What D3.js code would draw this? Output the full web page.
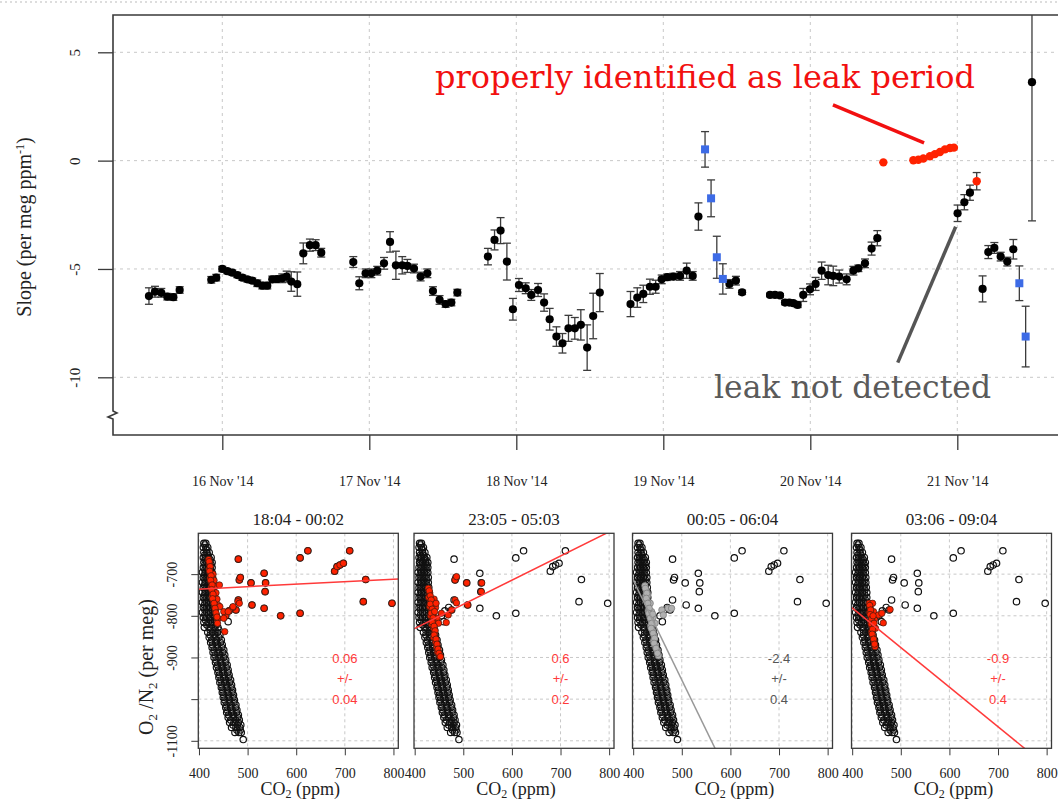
<!DOCTYPE html>
<html>
<head>
<meta charset="utf-8">
<script src="https://cdn.jsdelivr.net/npm/d3@7"></script>
<style>
  body { margin: 0; background: #fff; }
  svg { display: block; }
</style>
</head>
<body>
<div id="chart"></div>
<script>
// ---- main plot data: [day of Nov 2014 (fractional), slope, error] ----
var blackPoints = [
  [15.501,-6.25,0.38],[15.542,-6.05,0.25],[15.585,-6.10,0.2],[15.626,-6.28,0.15],[15.667,-6.30,0.15],[15.710,-5.97,0.15],
  [15.925,-5.50,0.15],[15.959,-5.40,0.15],[16.000,-5.00,0.12],[16.034,-5.10,0.12],[16.068,-5.17,0.12],[16.102,-5.28,0.12],
  [16.136,-5.40,0.12],[16.170,-5.48,0.12],[16.204,-5.54,0.12],[16.238,-5.66,0.15],[16.272,-5.77,0.15],[16.306,-5.77,0.15],
  [16.340,-5.48,0.15],[16.374,-5.47,0.15],[16.408,-5.43,0.2],[16.438,-5.35,0.25],[16.469,-5.58,0.45],[16.510,-5.70,0.56],
  [16.551,-4.28,0.48],[16.596,-3.90,0.28],[16.635,-3.90,0.25],[16.673,-4.25,0.2],
  [16.891,-4.68,0.25],[16.932,-5.66,0.3],[16.975,-5.20,0.2],[17.014,-5.20,0.2],[17.054,-5.08,0.2],[17.100,-4.74,0.27],
  [17.141,-3.75,0.47],[17.181,-4.83,0.65],[17.224,-4.83,0.4],[17.259,-4.86,0.3],[17.304,-4.98,0.2],[17.349,-5.35,0.2],
  [17.395,-5.20,0.2],[17.433,-6.02,0.2],[17.478,-6.43,0.2],[17.519,-6.62,0.15],[17.558,-6.55,0.15],[17.599,-6.09,0.15],
  [17.807,-4.43,0.38],[17.852,-3.66,0.46],[17.893,-3.23,0.6],[17.936,-4.66,0.85],[17.977,-6.86,0.5],[18.018,-5.74,0.3],
  [18.064,-5.89,0.25],[18.102,-6.20,0.25],[18.148,-5.97,0.3],[18.189,-6.55,0.4],[18.227,-7.32,0.5],[18.273,-8.12,0.45],
  [18.314,-8.43,0.45],[18.355,-7.74,0.6],[18.398,-7.74,0.5],[18.439,-7.58,0.7],[18.482,-8.63,1.05],[18.523,-7.17,1.05],
  [18.568,-6.09,0.88],
  [18.777,-6.62,0.58],[18.823,-6.32,0.45],[18.864,-6.15,0.4],[18.909,-5.82,0.35],[18.948,-5.82,0.3],[18.989,-5.48,0.2],
  [19.027,-5.38,0.15],[19.068,-5.35,0.15],[19.114,-5.32,0.2],[19.159,-5.08,0.35],[19.200,-5.32,0.2],
  [19.239,-2.58,0.63],
  [19.450,-5.69,0.2],[19.494,-5.54,0.2],[19.536,-6.08,0.1],
  [19.726,-6.20,0.08],[19.760,-6.20,0.08],[19.794,-6.22,0.08],[19.828,-6.55,0.1],[19.857,-6.55,0.1],[19.884,-6.58,0.1],
  [19.914,-6.66,0.12],[19.952,-6.20,0.3],[19.998,-5.94,0.25],[20.036,-5.69,0.3],[20.077,-5.08,0.4],[20.122,-5.28,0.45],
  [20.156,-5.32,0.45],[20.197,-5.35,0.3],[20.247,-5.48,0.25],[20.293,-5.08,0.2],[20.327,-4.97,0.15],[20.372,-4.74,0.2],
  [20.417,-4.06,0.3],[20.456,-3.58,0.35],
  [21.002,-2.43,0.38],[21.048,-1.92,0.35],[21.086,-1.48,0.35],
  [21.172,-5.92,0.6],[21.211,-4.22,0.3],[21.252,-4.03,0.25],[21.295,-4.43,0.2],[21.340,-4.66,0.2],[21.381,-4.09,0.45],
  [21.508,3.62,6.4]
];
var bluePoints = [
  [19.284,0.52,0.82],[19.325,-1.74,0.85],[19.364,-4.46,0.97],[19.405,-5.46,0.7],[21.422,-5.66,0.8],[21.465,-8.12,1.4]
];
var redPoints = [
  [20.497,-0.08,0],[20.701,0.02,0],[20.735,0.04,0],[20.769,0.10,0],[20.814,0.20,0],[20.848,0.30,0],
  [20.882,0.40,0],[20.916,0.52,0],[20.950,0.58,0],[20.977,0.60,0],[21.132,-0.95,0.4]
];
var dayTicks = [16, 17, 18, 19, 20, 21];
var slopeTicks = [-10, -5, 0, 5];

// ---- scatter panels: [CO2 ppm, O2/N2 per meg] ----
var allBand = [
  [410,-626],[414,-626],[409,-636],[414,-636],[418,-636],[410,-648],[416,-648],[421,-648],
  [409,-660],[414,-660],[420,-660],[425,-660],[410,-672],[416,-672],[422,-672],[427,-672],
  [409,-684],[415,-684],[421,-684],[427,-684],[407,-696],[414,-696],[420,-696],[427,-696],
  [409,-708],[415,-708],[421,-708],[428,-708],[407,-720],[414,-720],[421,-720],[428,-720],
  [409,-732],[415,-732],[422,-732],[429,-732],[407,-744],[414,-744],[421,-744],[430,-744],
  [409,-756],[415,-756],[422,-756],[430,-756],[407,-768],[415,-768],[423,-768],[431,-768],
  [409,-780],[416,-780],[423,-780],[431,-780],[407,-792],[416,-792],[424,-792],[433,-792],
  [409,-804],[416,-804],[424,-804],[433,-804],[410,-816],[419,-816],[428,-816],[436,-816],
  [411,-828],[421,-828],[431,-828],[439,-828],
  [412,-630],[416,-642],[412,-654],[418,-654],[412,-666],[418,-666],[423,-666],[412,-678],[419,-678],
  [425,-678],[412,-690],[418,-690],[424,-690],[411,-702],[417,-702],[424,-702],[412,-714],[418,-714],
  [425,-714],[411,-726],[418,-726],[425,-726],[412,-738],[418,-738],[426,-738],[411,-750],[418,-750],
  [426,-750],[412,-762],[419,-762],[427,-762],[411,-774],[419,-774],[427,-774],[412,-786],[420,-786],
  [428,-786],[412,-798],[420,-798],[429,-798],[413,-810],[423,-810],[432,-810],[416,-822],[426,-822],
  [435,-822],[423,-834],[433,-834],[441,-834],
  [418,-840],[428,-840],[438,-840],[421,-852],[431,-852],[441,-852],[424,-864],[434,-864],[444,-864],
  [427,-876],[437,-876],[447,-876],[429,-888],[439,-888],[449,-888],[431,-900],[441,-900],[451,-900],
  [434,-912],[444,-912],[454,-912],[436,-924],[446,-924],[456,-924],[439,-936],[449,-936],[459,-936],
  [441,-948],[451,-948],[461,-948],[443,-960],[453,-960],[463,-960],[446,-972],[456,-972],[466,-972],
  [448,-984],[458,-984],[468,-984],[450,-996],[460,-996],[470,-996],[452,-1008],[462,-1008],[472,-1008],
  [455,-1020],[465,-1020],[475,-1020],[457,-1032],[467,-1032],[477,-1032],[460,-1044],[470,-1044],[480,-1044],
  [463,-1056],[472,-1056],[481,-1056],[467,-1068],[476,-1068],[484,-1068],[474,-1080],[482,-1080],[487,-1080],
  [423,-846],[433,-846],[443,-846],[426,-858],[436,-858],[446,-858],[428,-870],[438,-870],[448,-870],
  [431,-882],[441,-882],[451,-882],[433,-894],[443,-894],[453,-894],[435,-906],[445,-906],[455,-906],
  [438,-918],[448,-918],[458,-918],[440,-930],[450,-930],[460,-930],[442,-942],[452,-942],[462,-942],
  [445,-954],[455,-954],[465,-954],[447,-966],[457,-966],[467,-966],[449,-978],[459,-978],[469,-978],
  [451,-990],[461,-990],[471,-990],[453,-1002],[463,-1002],[473,-1002],[456,-1014],[466,-1014],[476,-1014],
  [458,-1026],[468,-1026],[478,-1026],[461,-1038],[471,-1038],[481,-1038],[465,-1050],[475,-1050],[483,-1050],
  [470,-1062],[479,-1062],[486,-1062],[478,-1074],[485,-1074],
  [491,-1097],[460,-814]
];
var outliers = [
  [481,-664],[534,-698],[608,-661],[624,-644],[710,-644],[679,-693],[684,-682],[690,-678],[697,-674],
  [743,-713],[738,-766],[797,-770],[568,-800],[608,-794],[534,-782],[481,-762],[483,-714],[485,-708],
  [507,-721],[537,-721],[536,-742],[509,-774],[476,-786],[470,-780],[462,-788],[455,-800]
];
var window1 = [
  [420,-665],[422,-676],[421,-688],[424,-698],[423,-710],[426,-720],[425,-732],[428,-742],[427,-754],
  [430,-764],[432,-776],[434,-788],[436,-798],[438,-808],[429,-700],[431,-715],[433,-730],[435,-745],
  [437,-760],[440,-775],[443,-778],[451,-790],[460,-790],[470,-778],[480,-766],[483,-770],[439,-806],
  [451,-806],[438,-818],[453,-838],[442,-726],
  [421,-670],[423,-682],[422,-693],[425,-704],[424,-715],[427,-726],[426,-737],[429,-748],[428,-759],
  [431,-770],[433,-782],[435,-793],[437,-803]
];
var window2 = [
  [428,-734],[431,-745],[429,-756],[433,-766],[431,-778],[435,-788],[433,-800],[437,-810],[435,-820],
  [439,-830],[441,-842],[439,-852],[443,-862],[445,-874],[447,-886],[451,-896],[442,-812],[446,-806],
  [449,-818],[455,-794],[465,-816],[469,-798],[476,-786],[483,-714],[486,-706],[507,-721],[538,-721],
  [537,-742],[509,-774],[483,-762],[486,-769],[440,-760],[443,-780],[438,-795],
  [430,-740],[432,-752],[434,-762],[432,-772],[436,-784],[434,-794],[438,-805],[436,-815],[440,-825],
  [442,-836],[440,-846],[444,-856],[446,-868],[448,-880],[450,-890],[453,-898],[444,-770],[441,-790]
];
var window3 = [
  [424,-728],[427,-740],[426,-752],[429,-764],[432,-776],[431,-788],[434,-800],[437,-812],[436,-824],
  [440,-836],[443,-848],[442,-860],[446,-872],[449,-884],[452,-896],[438,-790],[441,-804],[445,-818],
  [459,-786],[462,-798],[472,-782],[479,-782],[430,-750],[435,-770],
  [425,-734],[428,-746],[427,-758],[430,-770],[433,-782],[432,-794],[435,-806],[438,-818],[437,-830],
  [441,-842],[444,-854],[443,-866],[447,-878],[450,-890],[440,-796]
];
var window4 = [
  [435,-770],[437,-780],[436,-792],[439,-802],[438,-814],[441,-826],[440,-838],[443,-850],[445,-862],
  [447,-874],[444,-790],[446,-808],[448,-830],[454,-798],[461,-794],[464,-817],[478,-785],[442,-770],
  [436,-775],[438,-786],[437,-797],[440,-808],[439,-820],[442,-832],[441,-844],[444,-856],[446,-868],
  [443,-800],[445,-818]
];
var windowTitles = ["18:04 - 00:02", "23:05 - 05:03", "00:05 - 06:04", "03:06 - 09:04"];
var windowSlopes = [0.06, 0.6, -2.4, -0.9];
var windowSlopeErrs = [0.04, 0.2, 0.4, 0.4];
var windowFitAt400 = [-736, -830.5, -714, -781.3];   // fitted O2/N2 at 400 ppm
var windowFitSlope = [0.06, 0.58, -2.4, -0.95];
var windowHighlight = [outliers.concat(window1), window2, window3, window4];
var co2Ticks = [400, 500, 600, 700, 800];
var o2Ticks = [-700, -800, -900, -1000, -1100];

var W = 1058, H = 803;
var RED = "#ff2200", BLUE = "#3d6be6", GRID = "#c8c8c8", FRAME = "#3a3a3a";
var serif = "'Liberation Serif', 'Times New Roman', serif";
var sans = "'Liberation Sans', Arial, sans-serif";
var noteFont = "'DejaVu Serif', Georgia, serif";

function toDate(d) {
  return new Date(Date.UTC(2014, 10, 1) + (d - 1) * 864e5);
}

var svg = d3.select("#chart").append("svg").attr("width", W).attr("height", H);

// slide border at the very top
svg.append("line").attr("x1", 0).attr("x2", W).attr("y1", 2).attr("y2", 2)
  .attr("stroke", "#bbb").attr("stroke-dasharray", "2,3");

// ================= main plot =================
var plot = { left: 113, top: 15, bottom: 435, right: W };
var x = d3.scaleUtc().domain([toDate(16), toDate(21)]).range([222.3, 957.3]);
var y = d3.scaleLinear().domain([-10, 5]).range([377.3, 52.3]);

var main = svg.append("g");

// grid
main.selectAll(".vgrid").data(dayTicks).enter().append("line")
  .attr("x1", d => x(toDate(d))).attr("x2", d => x(toDate(d)))
  .attr("y1", plot.top).attr("y2", plot.bottom)
  .attr("stroke", GRID).attr("stroke-dasharray", "3,4");
main.selectAll(".hgrid").data(slopeTicks).enter().append("line")
  .attr("x1", plot.left).attr("x2", plot.right)
  .attr("y1", d => y(d)).attr("y2", d => y(d))
  .attr("stroke", GRID).attr("stroke-dasharray", "3,4");

// y axis
var yAxis = main.append("g").attr("transform", "translate(" + plot.left + ",0)")
  .call(d3.axisLeft(y).tickValues(slopeTicks).tickSize(15).tickFormat(d3.format("d")));
yAxis.select(".domain").remove();
yAxis.selectAll("line").attr("stroke", FRAME).attr("stroke-width", 1.3);
yAxis.selectAll("text")
  .attr("transform", "rotate(-90)")
  .attr("x", 0).attr("y", -33).attr("dy", 0)
  .style("text-anchor", "middle")
  .style("font-family", serif).style("font-size", "15px").attr("fill", "#222")
  .text(d => d < 0 ? "-" + Math.abs(d) : d);

// x axis
var xAxis = main.append("g").attr("transform", "translate(0," + plot.bottom + ")")
  .call(d3.axisBottom(x).tickValues(dayTicks.map(toDate)).tickSize(15).tickPadding(26)
    .tickFormat(d3.utcFormat("%-d %b '%y")));
xAxis.select(".domain").remove();
xAxis.selectAll("line").attr("stroke", FRAME).attr("stroke-width", 1.3);
xAxis.selectAll("text").style("font-family", serif).style("font-size", "14px").attr("fill", "#222");

// frame with axis break on the left
main.append("path")
  .attr("d", "M" + plot.right + "," + plot.top + "H" + plot.left + "V411 l4,2 l-9,4 l5,2 V" + plot.bottom + "H" + plot.right)
  .attr("fill", "none").attr("stroke", FRAME).attr("stroke-width", 1.6);

// y label
main.append("text")
  .attr("transform", "translate(31,227) rotate(-90)")
  .attr("text-anchor", "middle")
  .style("font-family", serif).style("font-size", "20px").attr("fill", "#222")
  .call(t => {
    t.append("tspan").text("Slope (per meg ppm");
    t.append("tspan").attr("baseline-shift", "super").style("font-size", "12px").text("-1");
    t.append("tspan").text(")");
  });

svg.append("clipPath").attr("id", "mainClip").append("rect")
  .attr("x", plot.left).attr("y", plot.top)
  .attr("width", plot.right - plot.left).attr("height", plot.bottom - plot.top);
var marks = main.append("g").attr("clip-path", "url(#mainClip)");

// error bars
var withErr = blackPoints.concat(bluePoints, redPoints).filter(d => d[2] > 0);
var eb = marks.selectAll(".eb").data(withErr).enter().append("g")
  .attr("stroke", "#3c3c3c").attr("stroke-width", 1.3);
eb.append("line")
  .attr("x1", d => x(toDate(d[0]))).attr("x2", d => x(toDate(d[0])))
  .attr("y1", d => y(d[1] - d[2])).attr("y2", d => y(d[1] + d[2]));
eb.append("line")
  .attr("x1", d => x(toDate(d[0])) - 4).attr("x2", d => x(toDate(d[0])) + 4)
  .attr("y1", d => y(d[1] - d[2])).attr("y2", d => y(d[1] - d[2]));
eb.append("line")
  .attr("x1", d => x(toDate(d[0])) - 4).attr("x2", d => x(toDate(d[0])) + 4)
  .attr("y1", d => y(d[1] + d[2])).attr("y2", d => y(d[1] + d[2]));

marks.selectAll(".bpt").data(blackPoints).enter().append("circle")
  .attr("cx", d => x(toDate(d[0]))).attr("cy", d => y(d[1])).attr("r", 4.1)
  .attr("fill", "#000");
marks.selectAll(".rpt").data(redPoints).enter().append("circle")
  .attr("cx", d => x(toDate(d[0]))).attr("cy", d => y(d[1])).attr("r", 4.2)
  .attr("fill", RED);
marks.selectAll(".sq").data(bluePoints).enter().append("rect")
  .attr("x", d => x(toDate(d[0])) - 4).attr("y", d => y(d[1]) - 4)
  .attr("width", 8).attr("height", 8).attr("fill", BLUE);

// annotations
main.append("line")
  .attr("x1", x(toDate(20.154))).attr("y1", y(2.57))
  .attr("x2", x(toDate(20.774))).attr("y2", y(0.82))
  .attr("stroke", "#f21010").attr("stroke-width", 3.5);
main.append("text")
  .attr("x", x(toDate(17.447))).attr("y", y(3.35))
  .attr("textLength", 540).attr("lengthAdjust", "spacingAndGlyphs")
  .style("font-family", noteFont).style("font-size", "32px").attr("fill", "#f21010")
  .text("properly identified as leak period");
main.append("line")
  .attr("x1", x(toDate(20.595))).attr("y1", y(-9.32))
  .attr("x2", x(toDate(20.989))).attr("y2", y(-3.05))
  .attr("stroke", "#555").attr("stroke-width", 3.5);
main.append("text")
  .attr("x", x(toDate(19.345))).attr("y", y(-10.95))
  .attr("textLength", 277).attr("lengthAdjust", "spacingAndGlyphs")
  .style("font-family", noteFont).style("font-size", "32px").attr("fill", "#5a5a5a")
  .text("leak not detected");

// ================= scatter panels =================
var panelLefts = [198.3, 414, 632.5, 851.5];
var panelW = 200, panelTop = 533.3, panelBottom = 748.3;
var px = d3.scaleLinear().domain([398.6, 810]).range([0, panelW]);
var py = d3.scaleLinear().domain([-1118, -602]).range([panelBottom, panelTop]);

panelLefts.forEach(function (left, i) {
  var g = svg.append("g").attr("transform", "translate(" + left + ",0)");
  var isGray = i === 2;
  var hiFill = isGray ? "#b0b0b0" : RED;
  var lineCol = isGray ? "#999" : "#ff3a3a";
  var txtCol = isGray ? "#555" : "#ff3a3a";

  svg.append("clipPath").attr("id", "pclip" + i).append("rect")
    .attr("x", 0).attr("y", panelTop).attr("width", panelW).attr("height", panelBottom - panelTop);

  g.selectAll(".vg").data(co2Ticks).enter().append("line")
    .attr("x1", d => px(d)).attr("x2", d => px(d)).attr("y1", panelTop).attr("y2", panelBottom)
    .attr("stroke", GRID).attr("stroke-dasharray", "3,3");
  g.selectAll(".hg").data(o2Ticks).enter().append("line")
    .attr("x1", 0).attr("x2", panelW).attr("y1", d => py(d)).attr("y2", d => py(d))
    .attr("stroke", GRID).attr("stroke-dasharray", "3,3");

  var inner = g.append("g").attr("clip-path", "url(#pclip" + i + ")");
  inner.selectAll(".all").data(allBand.concat(outliers)).enter().append("circle")
    .attr("cx", d => px(d[0])).attr("cy", d => py(d[1])).attr("r", 3.2)
    .attr("fill", "none").attr("stroke", "#111").attr("stroke-width", 1.2);
  inner.selectAll(".hi").data(windowHighlight[i]).enter().append("circle")
    .attr("cx", d => px(d[0])).attr("cy", d => py(d[1])).attr("r", 3.2)
    .attr("fill", hiFill).attr("stroke", isGray ? "#777" : "#3a1a10").attr("stroke-width", 0.7);

  var fit = d => windowFitAt400[i] + windowFitSlope[i] * (d - 400);
  inner.append("line")
    .attr("x1", px(398.6)).attr("y1", py(fit(398.6)))
    .attr("x2", px(810)).attr("y2", py(fit(810)))
    .attr("stroke", lineCol).attr("stroke-width", 1.5);

  var s = windowSlopes[i];
  [String(s), "+/-", String(windowSlopeErrs[i])].forEach(function (t, k) {
    g.append("text")
      .attr("x", px(700)).attr("y", py(-902 - 49 * k))
      .attr("dy", "0.35em").attr("text-anchor", "middle")
      .style("font-family", sans).style("font-size", "13px").attr("fill", txtCol)
      .text(t);
  });

  g.append("rect").attr("x", 0).attr("y", panelTop).attr("width", panelW)
    .attr("height", panelBottom - panelTop)
    .attr("fill", "none").attr("stroke", FRAME).attr("stroke-width", 1.3);

  var ax = g.append("g").attr("transform", "translate(0," + panelBottom + ")")
    .call(d3.axisBottom(px).tickValues(co2Ticks).tickSize(7).tickPadding(13));
  ax.select(".domain").remove();
  ax.selectAll("line").attr("stroke", FRAME);
  ax.selectAll("text").style("font-family", serif).style("font-size", "14px").attr("fill", "#222");

  g.append("text").attr("x", panelW / 2 + 2).attr("y", 795).attr("text-anchor", "middle")
    .style("font-family", serif).style("font-size", "18px").attr("fill", "#222")
    .call(t => {
      t.append("tspan").text("CO");
      t.append("tspan").attr("dy", 3).style("font-size", "12px").text("2");
      t.append("tspan").attr("dy", -3).text(" (ppm)");
    });

  g.append("text").attr("x", panelW / 2).attr("y", 525).attr("text-anchor", "middle")
    .style("font-family", serif).style("font-size", "17px").attr("fill", "#222")
    .text(windowTitles[i]);

  if (i === 0) {
    var ay = g.append("g")
      .call(d3.axisLeft(py).tickValues(o2Ticks).tickSize(7));
    ay.select(".domain").remove();
    ay.selectAll("line").attr("stroke", FRAME);
    ay.selectAll("text")
      .attr("transform", "rotate(-90)").attr("x", 0).attr("y", -21).attr("dy", 0)
      .style("text-anchor", "middle")
      .style("font-family", serif).style("font-size", "14px").attr("fill", "#222")
      .text(d => d === -1000 ? "" : "-" + Math.abs(d));

    g.append("text")
      .attr("transform", "translate(-45,667) rotate(-90)")
      .attr("text-anchor", "middle")
      .style("font-family", serif).style("font-size", "20px").attr("fill", "#222")
      .call(t => {
        t.append("tspan").text("O");
        t.append("tspan").attr("dy", 4).style("font-size", "13px").text("2");
        t.append("tspan").attr("dy", -4).text(" /N");
        t.append("tspan").attr("dy", 4).style("font-size", "13px").text("2");
        t.append("tspan").attr("dy", -4).text(" (per meg)");
      });
  }
});
</script>
</body>
</html>
